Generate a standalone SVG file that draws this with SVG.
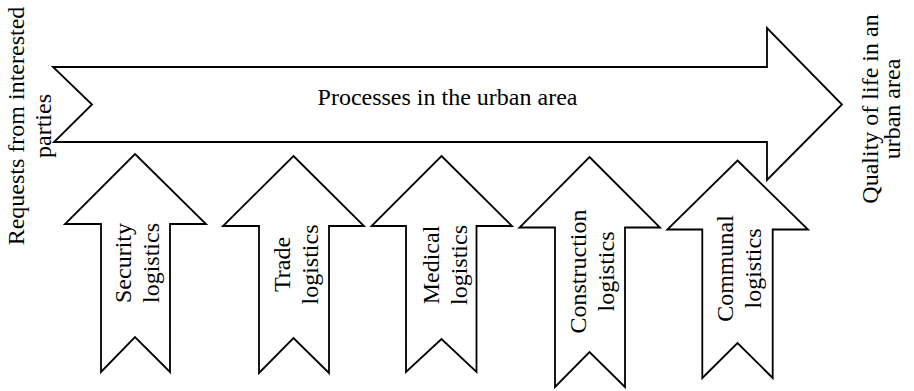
<svg xmlns="http://www.w3.org/2000/svg" width="914" height="391" viewBox="0 0 914 391">
<style>
.ar{fill:#fff;stroke:#000;stroke-width:1.8;stroke-linejoin:miter}
.t{font-family:"Liberation Serif","Times New Roman",serif;font-size:24px;fill:#000;text-anchor:middle}
</style>
<rect width="914" height="391" fill="#fff"/>
<g id="label-requests">
<text class="t" transform="translate(24,126) rotate(-90)"><tspan x="0" y="0">Requests from interested</tspan><tspan x="0" y="27">parties</tspan></text>
</g>
<g id="main-arrow">
<polygon class="ar" points="53,67 767,67 767,28 842,104.5 767,180 767,142 54,142 92,104.5"/>
<text class="t" x="447.5" y="105">Processes in the urban area</text>
</g>
<g id="label-quality">
<text class="t" transform="translate(878,109) rotate(-90)"><tspan x="0" y="0">Quality of life in an</tspan><tspan x="0" y="22">urban area</tspan></text>
</g>
<g id="security">
<polygon class="ar" points="135,154 206,224 170,224 170,372 135,337 101,372 101,224 65,224"/>
<text class="t" transform="translate(131,263) rotate(-90)"><tspan x="0" y="0">Security</tspan><tspan x="0" y="28">logistics</tspan></text>
</g>
<g id="trade">
<polygon class="ar" points="293.5,156 364,226 329,226 329,373 293.5,338 259,373 259,226 223,226"/>
<text class="t" transform="translate(290,264.5) rotate(-90)"><tspan x="0" y="0">Trade</tspan><tspan x="0" y="28">logistics</tspan></text>
</g>
<g id="medical">
<polygon class="ar" points="441.5,156 512,226 476.5,226 476.5,372 441.5,339 406,372 406,226 371.5,226"/>
<text class="t" transform="translate(439,265) rotate(-90)"><tspan x="0" y="0">Medical</tspan><tspan x="0" y="28">logistics</tspan></text>
</g>
<g id="construction">
<polygon class="ar" points="589.5,157 660,227.5 625,227.5 625,387 589.5,352 555,387 555,227.5 519.5,227.5"/>
<text class="t" transform="translate(586,271.5) rotate(-90)"><tspan x="0" y="0">Construction</tspan><tspan x="0" y="28">logistics</tspan></text>
</g>
<g id="communal">
<polygon class="ar" points="737.5,160.5 808,229.5 772.7,229.5 772.7,378 737.5,343 702.3,378 702.3,229.5 667.3,229.5"/>
<text class="t" transform="translate(733,268.5) rotate(-90)"><tspan x="0" y="0">Communal</tspan><tspan x="0" y="28">logistics</tspan></text>
</g>
</svg>
